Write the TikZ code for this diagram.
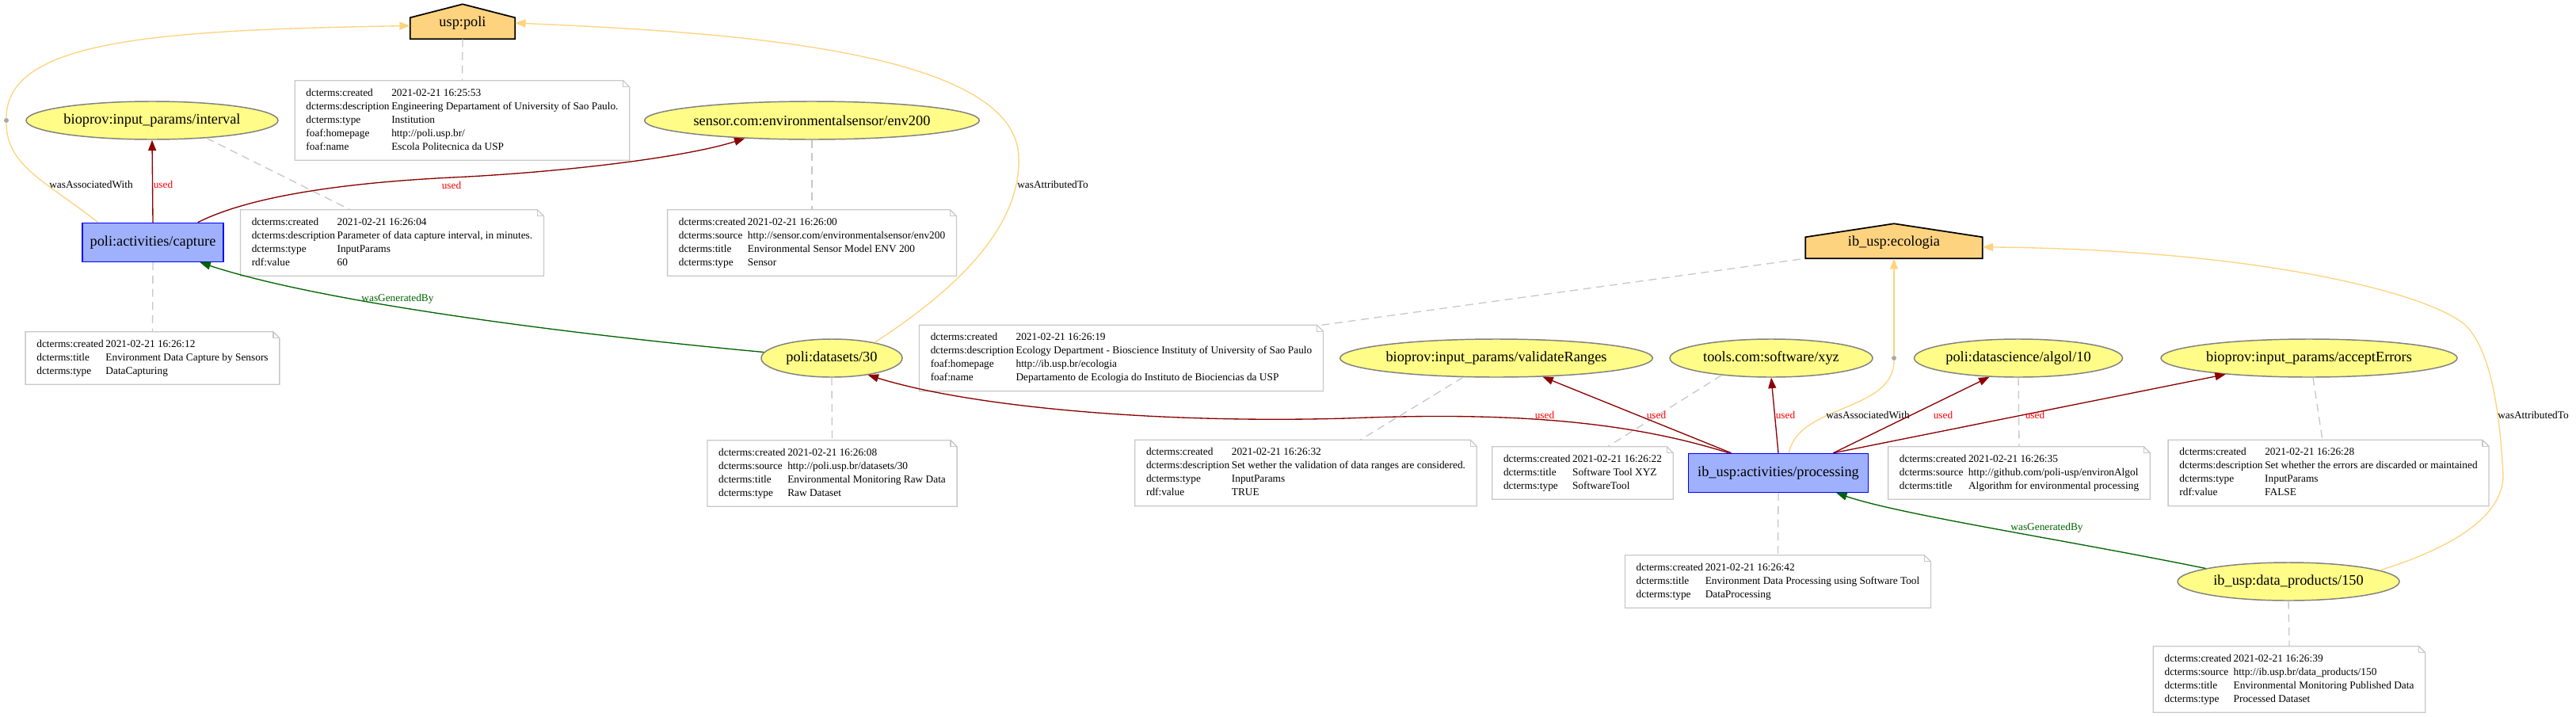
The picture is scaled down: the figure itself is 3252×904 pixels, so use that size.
\documentclass[tikz,border=0pt]{standalone}
\usepackage{fontspec}
\setmainfont{Liberation Serif}
\usetikzlibrary{shapes.geometric,arrows.meta,calc}
\definecolor{entfill}{HTML}{FFFC87}
\definecolor{entdraw}{HTML}{808080}
\definecolor{actfill}{HTML}{9FB1FC}
\definecolor{actdraw}{HTML}{0000FF}
\definecolor{agfill}{HTML}{FED37F}
\definecolor{usedc}{HTML}{8B0000}
\definecolor{genc}{HTML}{006400}
\definecolor{notec}{HTML}{C8C8C8}
\definecolor{dotc}{HTML}{A9A9A9}
\pgfdeclarelayer{background}
\pgfsetlayers{background,main}
\newcommand\notetab[1]{\begin{tabular}{@{}l@{\hspace{2pt}}l@{}}#1\end{tabular}}
\begin{document}
\begin{tikzpicture}[x=0.75pt,y=-0.75pt,
  entity/.style={ellipse, draw=entdraw, fill=entfill, line width=1.1pt, inner sep=0pt, minimum height=36pt, font=\fontsize{13.75}{16}\selectfont},
  activity/.style={rectangle, draw=actdraw, fill=actfill, line width=1.1pt, inner sep=0pt, minimum height=36.75pt, font=\fontsize{13.75}{16}\selectfont},
  agent/.style={rectangle, inner sep=0pt, minimum height=30pt, font=\fontsize{13.75}{16}\selectfont},
  annot/.style={rectangle, inner xsep=10.5pt, inner ysep=5.6pt, font=\fontsize{10}{12.75}\selectfont},
  notebox/.style={draw=notec, line width=1pt, line join=miter},
  housebox/.style={draw=black, fill=agfill, line width=1.3pt, line join=miter},
  arrtip/.style={-{Triangle[length=10pt,width=7.5pt]}},
  usededge/.style={draw=usedc, line width=1pt, arrtip},
  genedge/.style={draw=genc, line width=1pt, arrtip},
  attredge/.style={draw=agfill, line width=1pt, arrtip},
  assocline/.style={draw=agfill, line width=1pt},
  annedge/.style={draw=notec, line width=1pt, dash pattern=on 7.5pt off 5pt},
  lab/.style={font=\fontsize{10}{12}\selectfont, inner sep=0pt},
  usedlab/.style={lab, text=red},
  genlab/.style={lab, text=genc},
  bdot/.style={circle, fill=dotc, inner sep=0pt, minimum size=4.5pt}
]
\path[use as bounding box] (0,0) rectangle (3252,904);

% ---------- main nodes ----------
\node[agent, minimum width=99pt] (poli) at (584,29) {usp:poli};
\node[entity, minimum width=238.5pt] (interval) at (192,152) {bioprov:input\_params/interval};
\node[entity, minimum width=315pt] (sensor) at (1025,152) {sensor.com:environmentalsensor/env200};
\node[activity, minimum width=133.5pt] (capture) at (193,306) {poli:activities/capture};
\node[entity, minimum width=133.5pt] (datasets) at (1050,452) {poli:datasets/30};
\node[agent, minimum width=167.25pt] (ecologia) at (2391,306) {ib\_usp:ecologia};
\node[entity, minimum width=295.5pt] (validate) at (1889,452) {bioprov:input\_params/validateRanges};
\node[entity, minimum width=192pt] (tools) at (2236,452) {tools.com:software/xyz};
\node[entity, minimum width=197.25pt] (algol) at (2548,452) {poli:datascience/algol/10};
\node[entity, minimum width=280.5pt] (accept) at (2915,452) {bioprov:input\_params/acceptErrors};
\node[activity, minimum width=170.25pt] (processing) at (2245,597) {ib\_usp:activities/processing};
\node[entity, minimum width=210pt] (products) at (2889,734) {ib\_usp:data\_products/150};
\node[bdot] (dotA) at (8,152) {};
\node[bdot] (dotB) at (2391,452) {};

% house outlines of the agents
\begin{pgfonlayer}{background}
\foreach \n in {poli,ecologia}{
  \draw[housebox] (\n.south west) -- (\n.south east) -- ($(\n.south east)+(0,-27)$)
     -- ($(\n.south)+(0,-44)$) -- ($(\n.south west)+(0,-27)$) -- cycle;
}
\end{pgfonlayer}

% ---------- annotation notes ----------
\node[annot] (poliN) at (583.5,152) {\notetab{
dcterms:created & 2021-02-21 16:25:53\\
dcterms:description & Engineering Departament of University of Sao Paulo.\\
dcterms:type & Institution\\
foaf:homepage & http://poli.usp.br/\\
foaf:name & Escola Politecnica da USP}};
\node[annot] (intervalN) at (495,306.5) {\notetab{
dcterms:created & 2021-02-21 16:26:04\\
dcterms:description & Parameter of data capture interval, in minutes.\\
dcterms:type & InputParams\\
rdf:value & 60}};
\node[annot] (captureN) at (192.5,452) {\notetab{
dcterms:created & 2021-02-21 16:26:12\\
dcterms:title & Environment Data Capture by Sensors\\
dcterms:type & DataCapturing}};
\node[annot] (sensorN) at (1025,306.5) {\notetab{
dcterms:created & 2021-02-21 16:26:00\\
dcterms:source & http://sensor.com/environmentalsensor/env200\\
dcterms:title & Environmental Sensor Model ENV 200\\
dcterms:type & Sensor}};
\node[annot] (datasetsN) at (1050.5,597.5) {\notetab{
dcterms:created & 2021-02-21 16:26:08\\
dcterms:source & http://poli.usp.br/datasets/30\\
dcterms:title & Environmental Monitoring Raw Data\\
dcterms:type & Raw Dataset}};
\node[annot] (ecologiaN) at (1415.5,452) {\notetab{
dcterms:created & 2021-02-21 16:26:19\\
dcterms:description & Ecology Department - Bioscience Instituty of University of Sao Paulo\\
foaf:homepage & http://ib.usp.br/ecologia\\
foaf:name & Departamento de Ecologia do Instituto de Biociencias da USP}};
\node[annot] (validateN) at (1648.5,597) {\notetab{
dcterms:created & 2021-02-21 16:26:32\\
dcterms:description & Set wether the validation of data ranges are considered.\\
dcterms:type & InputParams\\
rdf:value & TRUE}};
\node[annot] (toolsN) at (1998,597) {\notetab{
dcterms:created & 2021-02-21 16:26:22\\
dcterms:title & Software Tool XYZ\\
dcterms:type & SoftwareTool}};
\node[annot] (algolN) at (2549,597) {\notetab{
dcterms:created & 2021-02-21 16:26:35\\
dcterms:source & http://github.com/poli-usp/environAlgol\\
dcterms:title & Algorithm for environmental processing}};
\node[annot] (acceptN) at (2939.5,597) {\notetab{
dcterms:created & 2021-02-21 16:26:28\\
dcterms:description & Set whether the errors are discarded or maintained\\
dcterms:type & InputParams\\
rdf:value & FALSE}};
\node[annot] (processingN) at (2244.5,734) {\notetab{
dcterms:created & 2021-02-21 16:26:42\\
dcterms:title & Environment Data Processing using Software Tool\\
dcterms:type & DataProcessing}};
\node[annot] (productsN) at (2890,857.5) {\notetab{
dcterms:created & 2021-02-21 16:26:39\\
dcterms:source & http://ib.usp.br/data\_products/150\\
dcterms:title & Environmental Monitoring Published Data\\
dcterms:type & Processed Dataset}};

\foreach \n in {poliN,intervalN,captureN,sensorN,datasetsN,ecologiaN,validateN,toolsN,algolN,acceptN,processingN,productsN}{
  \draw[notebox] (\n.south west) -- (\n.north west) -- ([xshift=-6pt]\n.north east)
     -- ([yshift=-6pt]\n.north east) -- (\n.south east) -- cycle;
  \draw[notebox] ([xshift=-6pt]\n.north east) -- ([xshift=-6pt,yshift=-6pt]\n.north east)
     -- ([yshift=-6pt]\n.north east);
}

% ---------- annotation links ----------
\draw[annedge] (poli.south) -- (poliN.north);
\draw[annedge] (interval.-18) -- ($(intervalN.north west)!0.362!(intervalN.north east)$);
\draw[annedge] (capture.south) -- (captureN.north);
\draw[annedge] (sensor.south) -- (sensorN.north);
\draw[annedge] (datasets.south) -- (datasetsN.north);
\draw[annedge] ([xshift=-1.5pt]ecologiaN.north east) -- (ecologia.south west);
\draw[annedge] (validate.210) -- ($(validateN.north west)!0.659!(validateN.north east)$);
\draw[annedge] (tools.199) -- ($(toolsN.north west)!0.638!(toolsN.north east)$);
\draw[annedge] (algol.south) -- (algolN.north);
\draw[annedge] ($(accept.south)+(5,0)$) -- ($(acceptN.north west)!0.481!(acceptN.north east)$);
\draw[annedge] (processing.south) -- (processingN.north);
\draw[annedge] (products.south) -- (productsN.north);

% ---------- left group edges ----------
\draw[usededge] (capture.north) -- (interval.south);
\node[usedlab] (l1) at (206,233) {used};

\draw[usededge] (capture.24) .. controls (320,245) and (450,230) .. (570,224)
   .. controls (700,218) and (860,200) .. (sensor.195);
\node[usedlab] (l2) at (570,234) {used};

\draw[assocline] (capture.160) .. controls (60,230) and (8,210) .. (dotA);
\draw[attredge] (dotA) .. controls (8,50) and (200,38) .. (poli.183);
\node[lab] (l3) at (115,233) {wasAssociatedWith};

\draw[attredge] (datasets.20) .. controls (1200,370) and (1290,290) .. (1286,197)
   .. controls (1280,60) and (900,40) .. (poli.east);
\node[lab] (l4) at (1329,233) {wasAttributedTo};

\draw[genedge] (datasets.175) .. controls (700,420) and (400,380) .. (capture.-23);
\node[genlab] (l5) at (502,377) {wasGeneratedBy};

% ---------- right group edges ----------
\draw[usededge] (processing.158) .. controls (2050,530) and (1900,520) .. (1700,528)
   .. controls (1450,535) and (1220,512) .. (datasets.-25);
\node[usedlab] (l6) at (1950,524) {used};

\draw[usededge] (processing.157) -- (validate.-22);
\node[usedlab] (l7) at (2091,524) {used};

\draw[usededge] (processing.north) -- (tools.south);
\node[usedlab] (l8) at (2254,524) {used};

\draw[assocline] (processing.62) .. controls (2270,510) and (2391,520) .. (dotB);
\draw[attredge] (dotB) -- (ecologia.south);
\node[lab] (l9) at (2358,524) {wasAssociatedWith};

\draw[usededge] (processing.20) -- (algol.213);
\node[usedlab] (l10) at (2453,524) {used};

\draw[usededge] (processing.20) -- (accept.191);
\node[usedlab] (l11) at (2569,524) {used};

\draw[genedge] (products.171) .. controls (2600,680) and (2400,650) .. (processing.-19);
\node[genlab] (l12) at (2584,666) {wasGeneratedBy};

\draw[attredge] (products.7) .. controls (3100,690) and (3160,650) .. (3160,600)
   .. controls (3155,500) and (3140,440) .. (3114,412)
   .. controls (3070,370) and (2850,315) .. (ecologia.-3);
\node[lab] (l13) at (3198,524) {wasAttributedTo};
\end{tikzpicture}
\end{document}
